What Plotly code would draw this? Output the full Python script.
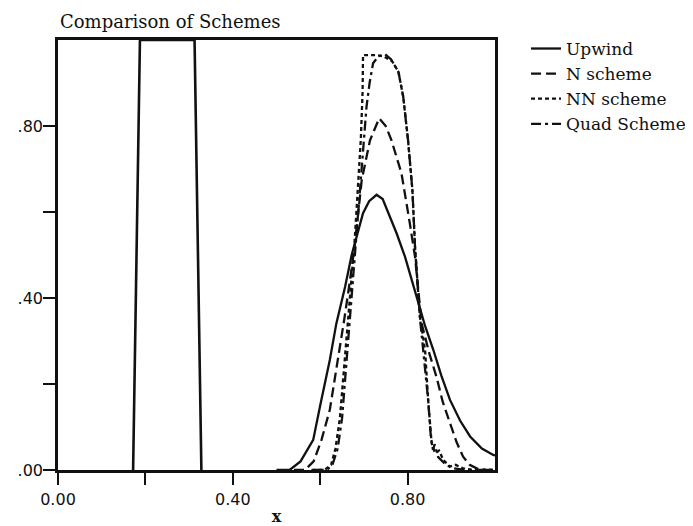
import plotly.graph_objects as go

# ---- data ----
box_x = [0.171875, 0.1875, 0.3125, 0.328125]
box_y = [0.0, 1.0, 1.0, 0.0]

upwind_x = [0.50, 0.53, 0.555, 0.584, 0.60, 0.622, 0.637, 0.657, 0.672, 0.685, 0.698, 0.712, 0.729,
            0.743, 0.756, 0.775, 0.794, 0.81, 0.824, 0.84, 0.859, 0.877, 0.897, 0.92, 0.943, 0.97, 0.996, 1.0]
upwind_y = [0.0, 0.0, 0.02, 0.07, 0.15, 0.256, 0.341, 0.426, 0.50, 0.55, 0.597, 0.625, 0.640,
            0.630, 0.597, 0.55, 0.496, 0.44, 0.395, 0.335, 0.279, 0.22, 0.163, 0.115, 0.078, 0.05, 0.035, 0.034]

nsch_x = [0.54, 0.565, 0.585, 0.603, 0.622, 0.64, 0.655, 0.668, 0.68, 0.695, 0.714, 0.735, 0.75, 0.763,
          0.786, 0.805, 0.817, 0.832, 0.85, 0.866, 0.88, 0.897, 0.912, 0.927, 0.942, 0.958, 0.98, 1.0]
nsch_y = [0.0, 0.0, 0.02, 0.07, 0.14, 0.25, 0.35, 0.44, 0.53, 0.674, 0.767, 0.818, 0.80, 0.767,
          0.69, 0.574, 0.496, 0.341, 0.27, 0.217, 0.16, 0.109, 0.065, 0.031, 0.012, 0.004, 0.0, 0.0]

nn_x = [0.58, 0.61, 0.625, 0.635, 0.645, 0.655, 0.665, 0.672, 0.679, 0.687, 0.693, 0.697, 0.698, 0.712,
        0.729, 0.745, 0.765, 0.779, 0.790, 0.801, 0.811, 0.817, 0.828, 0.840, 0.847, 0.855, 0.863, 0.872,
        0.882, 0.897, 0.91, 0.927, 0.95, 1.0]
nn_y = [0.0, 0.0, 0.012, 0.05, 0.12, 0.25, 0.38, 0.45, 0.535, 0.66, 0.77, 0.88, 0.965, 0.965,
        0.965, 0.962, 0.95, 0.926, 0.868, 0.767, 0.651, 0.519, 0.357, 0.279, 0.163, 0.062, 0.039, 0.045,
        0.023, 0.008, 0.012, 0.004, 0.0, 0.0]

quad_x = [0.585, 0.615, 0.628, 0.64, 0.65, 0.66, 0.668, 0.676, 0.684, 0.692, 0.70, 0.706, 0.713, 0.721,
          0.733, 0.748, 0.762, 0.779, 0.79, 0.801, 0.811, 0.817, 0.828, 0.838, 0.847, 0.853, 0.858, 0.862,
          0.87, 0.885, 0.9, 0.93, 0.96, 1.0]
quad_y = [0.0, 0.0, 0.012, 0.05, 0.12, 0.25, 0.37, 0.47, 0.57, 0.68, 0.78, 0.845, 0.90, 0.946,
          0.962, 0.967, 0.955, 0.926, 0.868, 0.767, 0.651, 0.519, 0.357, 0.26, 0.163, 0.08, 0.047, 0.06,
          0.03, 0.015, 0.005, 0.0, 0.0, 0.0]

x_tickvals = [0.0, 0.2, 0.4, 0.6, 0.8]
x_ticktext = ["0.00", "", "0.40", "", "0.80"]
y_tickvals = [0.0, 0.2, 0.4, 0.6, 0.8]
y_ticktext = [".00", "", ".40", "", ".80"]

title_text = "Comparison of Schemes"
x_title = "x"

# ---- figure ----
# The page body has an 8px margin, so the figure is 8px smaller than the window.
W, H = 685, 518
BLACK = "#111111"
fig = go.Figure()
fig.add_trace(go.Scatter(x=box_x, y=box_y, mode="lines", showlegend=False,
                         line=dict(color=BLACK, width=2.6), hoverinfo="skip"))
fig.add_trace(go.Scatter(x=upwind_x, y=upwind_y, mode="lines", name="Upwind",
                         line=dict(color=BLACK, width=2.3, dash="solid")))
fig.add_trace(go.Scatter(x=nsch_x, y=nsch_y, mode="lines", name="N scheme",
                         line=dict(color=BLACK, width=2.3, dash="10px,5px")))
fig.add_trace(go.Scatter(x=nn_x, y=nn_y, mode="lines", name="NN scheme",
                         line=dict(color=BLACK, width=2.3, dash="4px,3px")))
fig.add_trace(go.Scatter(x=quad_x, y=quad_y, mode="lines", name="Quad Scheme",
                         line=dict(color=BLACK, width=2.3, dash="10px,4px,3px,4px")))

axis_common = dict(showgrid=False, zeroline=False, showline=True, linecolor=BLACK, linewidth=2.6,
                   mirror=True, ticks="outside", ticklen=12, tickwidth=2.4, tickcolor=BLACK,
                   tickfont=dict(family="DejaVu Sans", size=16, color=BLACK))

fig.update_xaxes(range=[0, 1.0], tickmode="array", tickvals=x_tickvals, ticktext=x_ticktext,
                 title=dict(text="<b>" + x_title + "</b>", font=dict(family="DejaVu Serif", size=16, color=BLACK),
                            standoff=10),
                 ticklabelstandoff=1,
                 **axis_common)
fig.update_yaxes(range=[0, 1.0], tickmode="array", tickvals=y_tickvals, ticktext=y_ticktext,
                 ticklabelstandoff=-3,
                 **axis_common)

fig.update_layout(
    width=W, height=H,
    margin=dict(l=50, r=198, t=32, b=56, autoexpand=False),
    paper_bgcolor="white", plot_bgcolor="white",
    title=dict(text=title_text, x=52 / W, xref="container", xanchor="left",
               y=1 - 14 / H, yref="container", yanchor="middle",
               font=dict(family="DejaVu Serif", size=18, color=BLACK)),
    legend=dict(x=1.071, y=1.021, xanchor="left", yanchor="top",
                font=dict(family="DejaVu Serif", size=17, color=BLACK),
                bgcolor="rgba(0,0,0,0)", borderwidth=0, tracegroupgap=0),
    showlegend=True,
)

fig.write_html("out.html")
